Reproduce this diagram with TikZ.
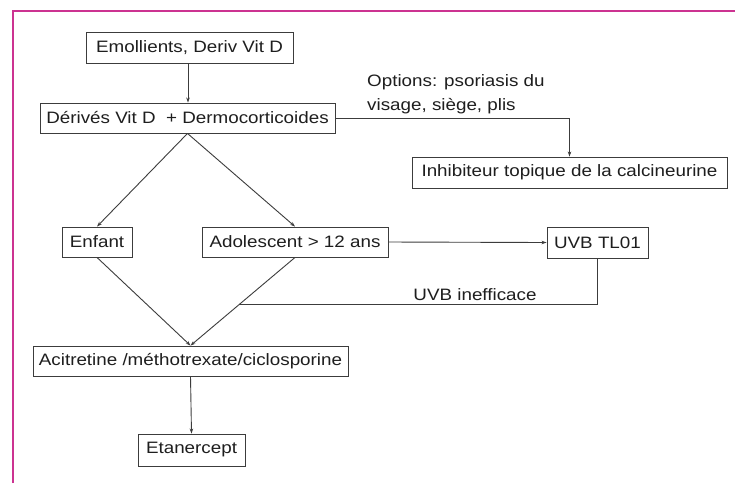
\documentclass[tikz,border=0pt]{standalone}
\usepackage{fontspec}
\setmainfont{Liberation Sans}[FakeStretch=1.14]
\usetikzlibrary{arrows.meta,calc}
\definecolor{frame}{RGB}{204,51,145}
\definecolor{ln}{RGB}{60,60,60}
\definecolor{tx}{RGB}{30,30,30}
\begin{document}
\begin{tikzpicture}[x=1pt,y=-1pt,
  box/.style={draw=ln,line width=0.9pt,inner sep=0pt,text=tx,font=\fontsize{16.5}{19}\selectfont},
  conn/.style={draw=ln,line width=0.9pt},
  arr/.style={conn,-{Stealth[length=5pt,width=3.5pt]}},
  lbl/.style={text=tx,font=\fontsize{16.5}{24}\selectfont,inner sep=0pt}]
\useasboundingbox (0,0) rectangle (735,483);
\fill[white] (0,0) rectangle (735,483);
\draw[frame,line width=2pt] (12.5,483) -- (12.5,10.7) -- (735,10.7);

\node[box,minimum width=207pt,minimum height=31pt] (emo) at (189.5,47.5) {Emollients, Deriv Vit D};
\node[box,minimum width=295pt,minimum height=30pt] (der) at (187.5,118) {Dérivés Vit D\ \ + Dermocorticoides};
\node[box,minimum width=315pt,minimum height=31pt] (inh) at (569.5,172.5) {Inhibiteur topique de la calcineurine};
\node[box,minimum width=70pt,minimum height=30pt] (enf) at (97,242) {Enfant};
\node[box,minimum width=186pt,minimum height=30pt] (ado) at (295,242) {Adolescent > 12 ans};
\node[box,minimum width=101pt,minimum height=31pt] (uvb) at (597.5,242.5) {UVB TL01};
\node[box,minimum width=315pt,minimum height=30pt] (aci) at (190.5,361) {Acitretine /méthotrexate/ciclosporine};
\node[box,minimum width=107pt,minimum height=32pt] (eta) at (191.5,450) {Etanercept};

\node[lbl,anchor=west,align=left] (opt) at (367,94) {Options: psoriasis du\\visage, siège, plis};
\node[lbl,anchor=base] (ineff) at (475,300) {UVB inefficace};

\draw[arr] (emo.south -| 188,0) -- (der.north -| 188,0);
\draw[arr] (der.east) -| (inh.north);
\draw[arr] (der.south) -- (enf.north);
\draw[arr] (der.south) -- (ado.north);
\draw[arr] (ado.east) -- (uvb.west);
\draw[arr] (enf.south) -- (aci.north);
\draw[arr] (ado.south) -- (aci.north);
\coordinate (m) at ($(ado.south)!0.534!(aci.north)$);
\draw[conn] (uvb.south) |- (m);
\draw[arr] (aci.south) -- (eta.north);
\end{tikzpicture}
\end{document}
